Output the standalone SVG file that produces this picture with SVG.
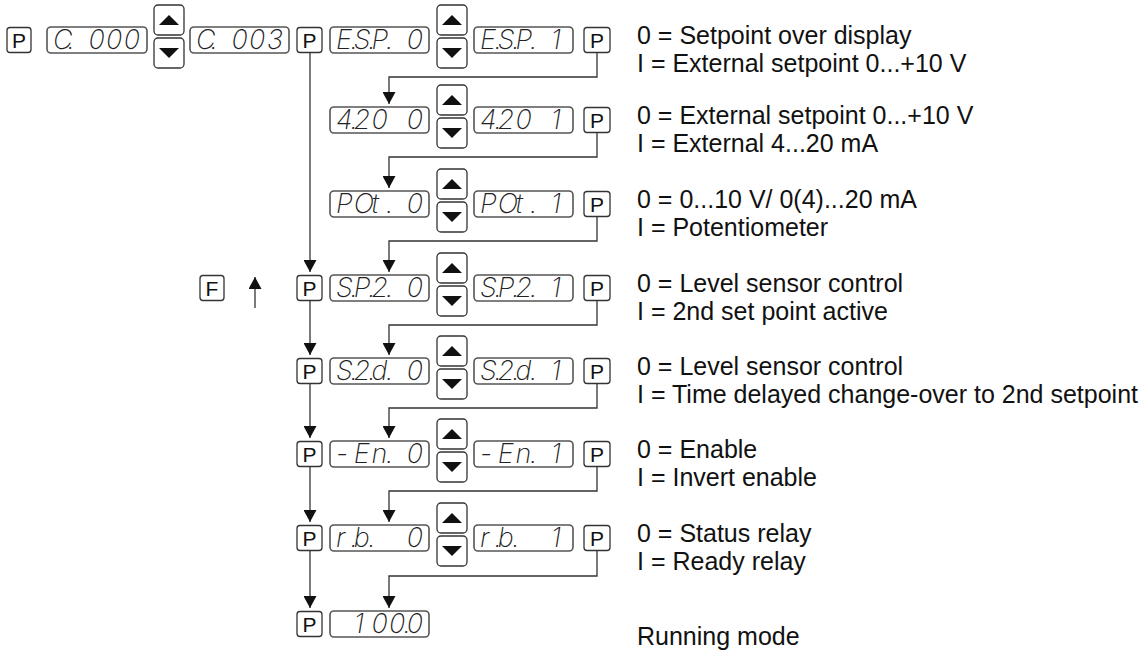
<svg xmlns="http://www.w3.org/2000/svg" width="1147" height="658" viewBox="0 0 1147 658">
<style>
.btn{fill:#fff;stroke:#333;stroke-width:1.3}
.disp{fill:#fff;stroke:#555;stroke-width:1.6}
.bt{font-family:"Liberation Sans",Arial,sans-serif;font-size:21px;fill:#111;text-anchor:middle}
.seg{font-family:Inter,Roboto,"DejaVu Sans",sans-serif;font-style:italic;font-weight:200;font-size:27px;fill:#222}
.tri{fill:#111}
.lbl{font-family:"Liberation Sans",Arial,sans-serif;font-size:25px;fill:#111}
.con{fill:none;stroke:#333;stroke-width:1.3}
</style>
<defs>
<marker id="ah" markerUnits="userSpaceOnUse" markerWidth="13" markerHeight="13" refX="12" refY="6.5" orient="auto">
<path d="M0,0 L12,6.5 L0,13 z" fill="#111"/>
</marker>
<g id="updown">
<rect class="btn" x="0" y="0" width="30" height="30" rx="4"/>
<polygon class="tri" points="5,20 25,20 15,10"/>
<rect class="btn" x="0" y="33" width="30" height="30" rx="4"/>
<polygon class="tri" points="5,43 25,43 15,53"/>
</g>
</defs>
<rect width="1147" height="658" fill="#fff"/>

<g id="connectors">
<path class="con" d="M597 52.5 V77 H389 V104" marker-end="url(#ah)"/>
<path class="con" d="M597 132.5 V157 H389 V188" marker-end="url(#ah)"/>
<path class="con" d="M597 216.5 V241 H389 V272" marker-end="url(#ah)"/>
<path class="con" d="M597 300.5 V325 H389 V355" marker-end="url(#ah)"/>
<path class="con" d="M597 383.5 V408 H389 V438" marker-end="url(#ah)"/>
<path class="con" d="M597 466.5 V491 H389 V522" marker-end="url(#ah)"/>
<path class="con" d="M597 550.5 V576 H389 V608" marker-end="url(#ah)"/>
<path class="con" d="M310 52.5 V272" marker-end="url(#ah)"/>
<path class="con" d="M310 300.5 V355" marker-end="url(#ah)"/>
<path class="con" d="M310 383.5 V438" marker-end="url(#ah)"/>
<path class="con" d="M310 466.5 V522" marker-end="url(#ah)"/>
<path class="con" d="M310 550.5 V608" marker-end="url(#ah)"/>
<path class="con" d="M255 308 V277" marker-end="url(#ah)"/>
</g>

<!-- row 1 -->
<g id="p0"><rect class="btn" x="7" y="27.5" width="24" height="25" rx="3"/><text class="bt" x="19" y="47.5">P</text></g>
<g id="disp-c000"><rect class="disp" x="47" y="27" width="100" height="26" rx="4"/><text class="seg" x="53 67.5 70.7 88.4 106.1 123.8" y="49">C. 000</text></g>
<g id="ud-1a"><use href="#updown" x="154" y="5"/></g>
<g id="disp-c003"><rect class="disp" x="190" y="27" width="99" height="26" rx="4"/><text class="seg" x="196 210.5 213.7 231.4 249.1 266.8" y="49">C. 003</text></g>
<g id="p1"><rect class="btn" x="297" y="27.5" width="25" height="25" rx="3"/><text class="bt" x="309.5" y="47.5">P</text></g>
<g id="disp-esp0"><rect class="disp" x="330" y="27" width="99" height="26" rx="4"/><text class="seg" x="336 350.5 353.7 368.2 371.4 385.9 389.1 406.8" y="49">E.S.P. 0</text></g>
<g id="ud-1b"><use href="#updown" x="437" y="5"/></g>
<g id="disp-esp1"><rect class="disp" x="474" y="27" width="99" height="26" rx="4"/><text class="seg" x="480 494.5 497.7 512.2 515.4 529.9 533.1 550.8" y="49">E.S.P. 1</text></g>
<g id="p-r1"><rect class="btn" x="584" y="27.5" width="26" height="25" rx="3"/><text class="bt" x="597" y="47.5">P</text></g>

<!-- row 2 -->
<g id="disp-4200"><rect class="disp" x="330" y="107" width="99" height="26" rx="4"/><text class="seg" x="336 350.5 353.7 371.4 389.1 406.8" y="129">4.20 0</text></g>
<g id="ud-2"><use href="#updown" x="437" y="85"/></g>
<g id="disp-4201"><rect class="disp" x="474" y="107" width="99" height="26" rx="4"/><text class="seg" x="480 494.5 497.7 515.4 533.1 550.8" y="129">4.20 1</text></g>
<g id="p-r2"><rect class="btn" x="584" y="107.5" width="26" height="25" rx="3"/><text class="bt" x="597" y="127.5">P</text></g>

<!-- row 3 -->
<g id="disp-pot0"><rect class="disp" x="330" y="191" width="99" height="26" rx="4"/><text class="seg" x="336 353.7 371.4 385.9 389.1 406.8" y="213">POt. 0</text></g>
<g id="ud-3"><use href="#updown" x="437" y="169"/></g>
<g id="disp-pot1"><rect class="disp" x="474" y="191" width="99" height="26" rx="4"/><text class="seg" x="480 497.7 515.4 529.9 533.1 550.8" y="213">POt. 1</text></g>
<g id="p-r3"><rect class="btn" x="584" y="191.5" width="26" height="25" rx="3"/><text class="bt" x="597" y="211.5">P</text></g>

<!-- row 4 -->
<g id="f-key"><rect class="btn" x="200" y="275.5" width="24" height="25" rx="3"/><text class="bt" x="212" y="295.5">F</text></g>
<g id="p-l4"><rect class="btn" x="297" y="275.5" width="25" height="25" rx="3"/><text class="bt" x="309.5" y="295.5">P</text></g>
<g id="disp-sp20"><rect class="disp" x="330" y="275" width="99" height="26" rx="4"/><text class="seg" x="336 350.5 353.7 368.2 371.4 385.9 389.1 406.8" y="297">S.P.2. 0</text></g>
<g id="ud-4"><use href="#updown" x="437" y="253"/></g>
<g id="disp-sp21"><rect class="disp" x="474" y="275" width="99" height="26" rx="4"/><text class="seg" x="480 494.5 497.7 512.2 515.4 529.9 533.1 550.8" y="297">S.P.2. 1</text></g>
<g id="p-r4"><rect class="btn" x="584" y="275.5" width="26" height="25" rx="3"/><text class="bt" x="597" y="295.5">P</text></g>

<!-- row 5 -->
<g id="p-l5"><rect class="btn" x="297" y="358.5" width="25" height="25" rx="3"/><text class="bt" x="309.5" y="378.5">P</text></g>
<g id="disp-s2d0"><rect class="disp" x="330" y="358" width="99" height="26" rx="4"/><text class="seg" x="336 350.5 353.7 368.2 371.4 385.9 389.1 406.8" y="380">S.2.d. 0</text></g>
<g id="ud-5"><use href="#updown" x="437" y="336"/></g>
<g id="disp-s2d1"><rect class="disp" x="474" y="358" width="99" height="26" rx="4"/><text class="seg" x="480 494.5 497.7 512.2 515.4 529.9 533.1 550.8" y="380">S.2.d. 1</text></g>
<g id="p-r5"><rect class="btn" x="584" y="358.5" width="26" height="25" rx="3"/><text class="bt" x="597" y="378.5">P</text></g>

<!-- row 6 -->
<g id="p-l6"><rect class="btn" x="297" y="441.5" width="25" height="25" rx="3"/><text class="bt" x="309.5" y="461.5">P</text></g>
<g id="disp-en0"><rect class="disp" x="330" y="441" width="99" height="26" rx="4"/><text class="seg" x="336 353.7 371.4 385.9 389.1 406.8" y="463">-En. 0</text></g>
<g id="ud-6"><use href="#updown" x="437" y="419"/></g>
<g id="disp-en1"><rect class="disp" x="474" y="441" width="99" height="26" rx="4"/><text class="seg" x="480 497.7 515.4 529.9 533.1 550.8" y="463">-En. 1</text></g>
<g id="p-r6"><rect class="btn" x="584" y="441.5" width="26" height="25" rx="3"/><text class="bt" x="597" y="461.5">P</text></g>

<!-- row 7 -->
<g id="p-l7"><rect class="btn" x="297" y="525.5" width="25" height="25" rx="3"/><text class="bt" x="309.5" y="545.5">P</text></g>
<g id="disp-rb0"><rect class="disp" x="330" y="525" width="99" height="26" rx="4"/><text class="seg" x="336 350.5 353.7 368.2 371.4 406.8" y="547">r.b. 0</text></g>
<g id="ud-7"><use href="#updown" x="437" y="503"/></g>
<g id="disp-rb1"><rect class="disp" x="474" y="525" width="99" height="26" rx="4"/><text class="seg" x="480 494.5 497.7 512.2 515.4 550.8" y="547">r.b. 1</text></g>
<g id="p-r7"><rect class="btn" x="584" y="525.5" width="26" height="25" rx="3"/><text class="bt" x="597" y="545.5">P</text></g>

<!-- row 8 -->
<g id="p-l8"><rect class="btn" x="297" y="611.5" width="25" height="25" rx="3"/><text class="bt" x="309.5" y="631.5">P</text></g>
<g id="disp-run"><rect class="disp" x="330" y="611" width="99" height="26" rx="4"/><text class="seg" x="353.7 371.4 389.1 403.6 406.8" y="633">100.0</text></g>

<g id="labels">
<text class="lbl" x="637" y="44">0 = Setpoint over display</text>
<text class="lbl" x="637" y="72">I = External setpoint 0...+10 V</text>
<text class="lbl" x="637" y="124">0 = External setpoint 0...+10 V</text>
<text class="lbl" x="637" y="152">I = External 4...20 mA</text>
<text class="lbl" x="637" y="208">0 = 0...10 V/ 0(4)...20 mA</text>
<text class="lbl" x="637" y="236">I = Potentiometer</text>
<text class="lbl" x="637" y="292">0 = Level sensor control</text>
<text class="lbl" x="637" y="320">I = 2nd set point active</text>
<text class="lbl" x="637" y="375">0 = Level sensor control</text>
<text class="lbl" x="637" y="403">I = Time delayed change-over to 2nd setpoint</text>
<text class="lbl" x="637" y="458">0 = Enable</text>
<text class="lbl" x="637" y="486">I = Invert enable</text>
<text class="lbl" x="637" y="542">0 = Status relay</text>
<text class="lbl" x="637" y="570">I = Ready relay</text>
<text class="lbl" x="637" y="645">Running mode</text>
</g>
</svg>
